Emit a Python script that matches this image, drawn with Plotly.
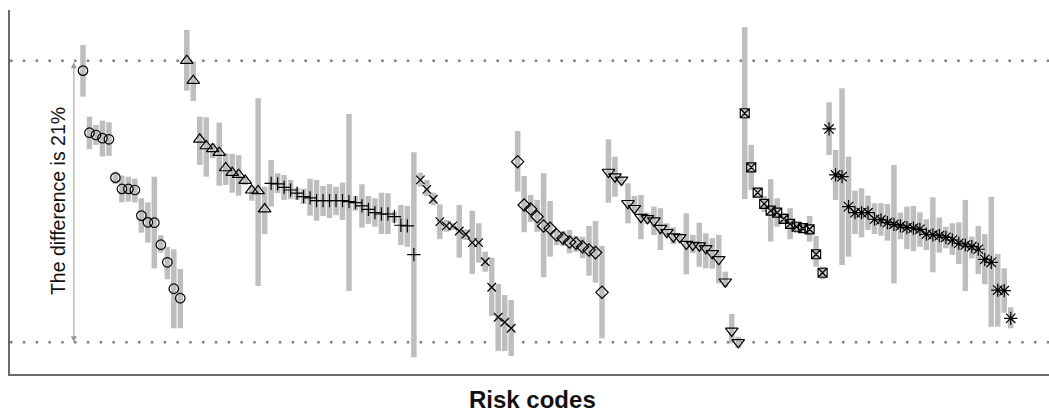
import plotly.graph_objects as go

# ---- data (risk estimates in %, with lower / upper interval bounds) ----
circle_est = [28.26, 23.63, 23.46, 23.22, 23.14, 20.28, 19.44, 19.44, 19.36, 17.45, 16.95, 16.92, 15.28, 13.97, 12.00, 11.29]
circle_lo = [26.32, 22.40, 22.72, 21.85, 21.90, 19.81, 18.44, 18.49, 18.44, 16.18, 15.43, 13.52, 14.69, 12.70, 9.05, 9.05]
circle_hi = [30.17, 24.83, 24.21, 24.53, 24.41, 20.73, 20.43, 20.35, 20.20, 18.74, 18.44, 20.35, 15.98, 15.13, 14.94, 13.47]

triup_est = [29.00, 27.51, 23.14, 22.64, 22.42, 22.14, 21.00, 20.65, 20.50, 20.06, 19.34, 19.29, 17.94]
triup_lo = [26.77, 26.00, 21.23, 20.35, 21.73, 19.68, 19.73, 19.16, 18.94, 19.73, 18.56, 12.20, 16.08]
triup_hi = [31.29, 28.93, 24.83, 24.78, 22.84, 24.38, 22.10, 22.05, 21.95, 20.35, 19.68, 26.20, 19.61]

plus_est = [19.86, 19.81, 19.56, 19.36, 19.12, 18.86, 18.77, 18.56, 18.56, 18.56, 18.56, 18.56, 18.49, 18.42, 18.17, 17.92, 17.67, 17.57, 17.57, 17.37, 16.73, 16.68, 14.54]
plus_lo = [18.12, 19.12, 18.62, 18.67, 18.62, 18.32, 17.45, 17.07, 17.42, 17.27, 17.48, 17.13, 11.83, 17.82, 16.55, 16.83, 16.62, 16.08, 16.08, 16.92, 15.26, 15.13, 6.89]
plus_hi = [21.60, 20.61, 20.48, 20.11, 19.51, 19.46, 20.20, 20.11, 19.66, 19.79, 19.61, 19.91, 25.03, 18.91, 19.79, 18.91, 18.74, 19.16, 19.12, 17.74, 18.24, 18.17, 22.17]

x_est = [20.11, 19.41, 18.67, 17.00, 16.68, 16.68, 16.30, 16.06, 15.43, 15.43, 14.01, 12.11, 9.87, 9.50, 9.05]
x_lo = [19.61, 18.91, 18.24, 15.69, 16.25, 16.38, 14.31, 15.63, 13.10, 13.94, 13.27, 9.97, 7.36, 7.36, 6.98]
x_hi = [20.65, 20.11, 19.16, 18.29, 17.13, 16.90, 18.24, 16.43, 17.82, 16.88, 14.76, 14.31, 12.35, 11.53, 11.16]

diamond_est = [21.47, 18.24, 17.94, 17.37, 16.68, 16.51, 16.01, 15.76, 15.48, 15.39, 15.13, 14.89, 14.69, 11.73]
diamond_lo = [19.24, 16.21, 16.98, 16.25, 12.85, 14.39, 15.26, 15.19, 14.64, 14.74, 14.27, 12.97, 12.45, 8.30]
diamond_hi = [23.76, 20.41, 18.99, 18.62, 20.61, 18.54, 16.30, 16.30, 16.38, 15.93, 15.88, 16.68, 17.05, 15.19]

tridown_est = [20.70, 20.35, 20.11, 18.37, 18.00, 17.33, 17.25, 17.07, 16.51, 16.21, 15.88, 15.83, 15.33, 15.26, 15.21, 15.01, 14.64, 14.19, 12.52, 8.85, 8.00]
tridown_lo = [18.42, 18.86, 19.73, 16.88, 17.62, 15.69, 16.83, 16.01, 14.89, 15.88, 15.33, 15.48, 13.07, 14.66, 13.64, 13.52, 13.49, 12.40, 12.15, 7.93, 7.58]
tridown_hi = [23.14, 21.85, 20.35, 19.86, 18.91, 18.99, 17.67, 18.12, 18.00, 16.88, 16.58, 16.15, 17.62, 16.01, 16.92, 16.13, 15.76, 16.01, 13.27, 10.11, 8.42]

squarex_est = [25.08, 21.05, 19.16, 18.32, 17.82, 17.67, 17.20, 16.83, 16.62, 16.51, 16.43, 14.57, 13.19]
squarex_lo = [18.69, 19.36, 18.84, 17.72, 15.51, 16.62, 16.90, 15.69, 16.15, 16.15, 15.51, 13.64, 12.70]
squarex_hi = [31.49, 22.72, 19.51, 18.91, 20.16, 18.74, 17.65, 18.00, 17.00, 16.90, 17.42, 15.93, 13.64]

aster_est = [23.91, 20.48, 20.35, 18.12, 17.67, 17.67, 17.67, 17.18, 17.13, 16.92, 16.80, 16.68, 16.55, 16.51, 16.43,
             16.06, 16.01, 15.95, 15.83, 15.63, 15.39, 15.26, 15.13, 14.94, 14.19, 13.97, 11.90, 11.85, 9.79]
aster_lo = [21.97, 18.62, 13.77, 14.39, 16.08, 15.83, 16.38, 16.08, 15.95, 15.58, 12.40, 15.69, 14.94, 14.81, 15.13,
            14.89, 13.22, 14.69, 15.01, 14.52, 13.84, 11.83, 14.27, 13.10, 12.33, 9.17, 9.17, 10.21, 9.05]
aster_hi = [25.90, 22.34, 26.95, 21.85, 19.31, 19.49, 18.94, 18.37, 18.37, 18.32, 21.23, 17.67, 18.12, 18.17, 17.70,
            17.18, 18.82, 17.30, 16.62, 16.88, 16.95, 18.62, 15.88, 16.68, 16.08, 18.86, 14.59, 13.52, 10.61]

groups = [
    ("circle-open", 9.5, circle_est, circle_lo, circle_hi),
    ("triangle-up-open", 11, triup_est, triup_lo, triup_hi),
    ("cross-thin-open", 9.5, plus_est, plus_lo, plus_hi),
    ("x-thin-open", 8.5, x_est, x_lo, x_hi),
    ("diamond-open", 9.5, diamond_est, diamond_lo, diamond_hi),
    ("triangle-down-open", 11, tridown_est, tridown_lo, tridown_hi),
    ("square-x-open", 9, squarex_est, squarex_lo, squarex_hi),
    ("asterisk-open", 11, aster_est, aster_lo, aster_hi),
]

fig = go.Figure()
idx = 1
all_est = []
for sym, size, est, lo, hi in groups:
    xs = list(range(idx, idx + len(est)))
    idx += len(est)
    all_est += est
    fig.add_trace(go.Scatter(
        x=xs, y=est, mode="markers",
        marker=dict(symbol=sym, size=size, color="black", line=dict(color="black", width=1.2)),
        error_y=dict(type="data", symmetric=False,
                     array=[h - e for h, e in zip(hi, est)],
                     arrayminus=[e - l for e, l in zip(est, lo)],
                     color="#BEBEBE", thickness=5.5, width=0),
        showlegend=False, hoverinfo="skip",
    ))

ymax = max(all_est)
ymin = min(all_est)

for yv in (ymax, ymin):
    fig.add_shape(type="line", xref="paper", x0=0, x1=1, yref="y", y0=yv, y1=yv,
                  line=dict(color="#808080", width=2.5, dash="2.5px,10.3px"), layer="below")

fig.add_annotation(x=-0.4, y=ymin, xref="x", yref="y", axref="x", ayref="y", ax=-0.4, ay=ymax,
                   showarrow=True, arrowside="end+start", arrowhead=2, arrowsize=1.2,
                   arrowwidth=1, arrowcolor="#9a9a9a", text="")

fig.add_annotation(x=0.0462, y=0.475, xref="paper", yref="paper", text="The difference is 21%",
                   textangle=-90, showarrow=False, font=dict(family="Liberation Sans, Arial", size=19.5, color="#111"),
                   xanchor="center", yanchor="middle")

fig.add_annotation(x=0.503, y=-0.0687, xref="paper", yref="paper", text="<b>Risk codes</b>",
                   showarrow=False, font=dict(family="Liberation Sans, Arial", size=24, color="#111"),
                   xanchor="center", yanchor="middle")

fig.update_layout(
    width=1049, height=412,
    margin=dict(l=10, r=0, t=10, b=38),
    paper_bgcolor="white", plot_bgcolor="white",
    xaxis=dict(range=[-10.25, 149.9], showgrid=False, zeroline=False, showticklabels=False, ticks="",
               showline=True, linecolor="#6a6a6a", linewidth=2),
    yaxis=dict(range=[5.64, 32.78], showgrid=False, zeroline=False, showticklabels=False, ticks="",
               showline=True, linecolor="#6a6a6a", linewidth=2),
)

fig.write_html("out.html")
